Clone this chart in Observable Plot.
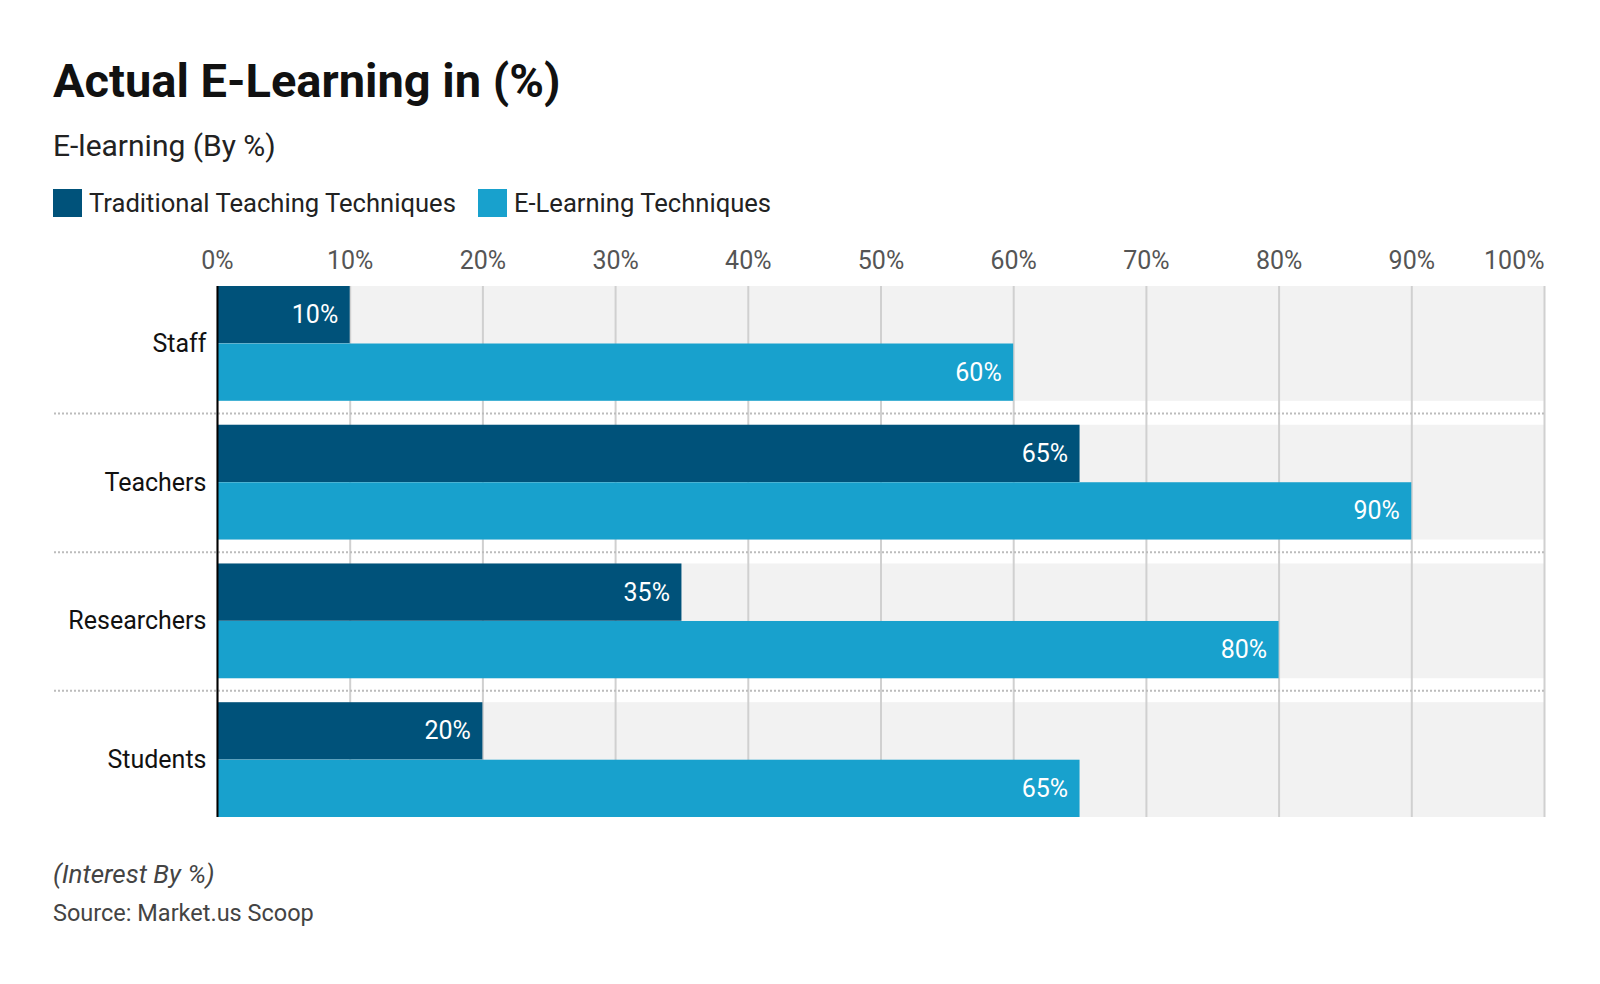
<!DOCTYPE html>
<html>
<head>
<meta charset="utf-8">
<script src="https://cdn.jsdelivr.net/npm/d3@7"></script>
<script src="https://cdn.jsdelivr.net/npm/@observablehq/plot@0.6"></script>
<style>
  html, body { margin: 0; padding: 0; background: #fff; }
  body { width: 1600px; height: 984px; position: relative; overflow: hidden; font-family: Roboto, "Noto Sans", sans-serif; }
  .abs { position: absolute; left: 53px; white-space: nowrap; margin: 0; }
  #title { top: 57px; font-size: 47px; line-height: 48px; font-weight: 700; color: #111; }
  #subtitle { top: 131px; font-size: 30px; line-height: 30px; color: #222; }
  #legend { top: 189px; display: flex; align-items: center; font-size: 25.6px; line-height: 28px; color: #222; }
  #legend .item { display: flex; align-items: center; margin-right: 22px; }
  #legend .sw { width: 29px; height: 28px; margin-right: 7px; }
  #chart { position: absolute; left: 0; top: 220px; }
  #note { top: 861px; font-size: 26px; line-height: 26px; font-style: italic; color: #444; }
  #source { top: 901px; font-size: 23.5px; line-height: 24px; color: #444; }
</style>
</head>
<body>
<div id="title" class="abs">Actual E-Learning in (%)</div>
<div id="subtitle" class="abs">E-learning (By %)</div>
<div id="legend" class="abs"></div>
<div id="chart"></div>
<div id="note" class="abs">(Interest By %)</div>
<div id="source" class="abs">Source: Market.us Scoop</div>
<script>
const categories = ["Staff", "Teachers", "Researchers", "Students"];
const seriesNames = ["Traditional Teaching Techniques", "E-Learning Techniques"];
const traditional = [10, 65, 35, 20];
const eLearning = [60, 90, 80, 65];
const xTicks = [0, 10, 20, 30, 40, 50, 60, 70, 80, 90, 100];
const colors = ["#00527a", "#18a1cd"];

// legend
const legend = document.getElementById("legend");
seriesNames.forEach((name, i) => {
  const item = document.createElement("div");
  item.className = "item";
  const sw = document.createElement("div");
  sw.className = "sw";
  sw.style.background = colors[i];
  const label = document.createElement("span");
  label.textContent = name;
  item.appendChild(sw);
  item.appendChild(label);
  legend.appendChild(item);
});

const tradRows = categories.map((c, i) => ({category: c, value: traditional[i]}));
const eRows = categories.map((c, i) => ({category: c, value: eLearning[i]}));

const svgTop = 220;
const frameTop = 286;
const frameBottom = 817;
const band = 115;
const gap = 24;
const marginLeft = 217;
const marginRight = 56;
const xMax = xTicks[xTicks.length - 1];

const chart = Plot.plot({
  width: 1600,
  height: frameBottom + 14 - svgTop,
  marginTop: frameTop - svgTop,
  marginBottom: 14,
  marginLeft,
  marginRight,
  style: {fontFamily: "Roboto, 'Noto Sans', sans-serif", background: "transparent", overflow: "visible"},
  x: {domain: [0, xMax]},
  y: {domain: categories, paddingInner: gap / (band + gap), paddingOuter: 0, align: 0, round: false},
  marks: [
    Plot.barX(categories, {y: d => d, x1: 0, x2: xMax, fill: "#f2f2f2"}),
    Plot.gridX(xTicks, {stroke: "#d0d0d0", strokeOpacity: 1, strokeWidth: 2}),
    Plot.ruleY(categories.slice(0, -1), {y: d => d, dy: (band + gap) / 2, insetLeft: -(marginLeft - 54), stroke: "#bcbcbc", strokeWidth: 2, strokeDasharray: "2,2"}),
    Plot.barX(tradRows, {y: "category", x: "value", fill: colors[0], insetBottom: band / 2}),
    Plot.barX(eRows, {y: "category", x: "value", fill: colors[1], insetTop: band / 2}),
    Plot.ruleX([0], {stroke: "#000", strokeWidth: 2}),
    Plot.text(tradRows, {y: "category", x: "value", text: d => d.value + "%", dx: -12, dy: -band / 4, textAnchor: "end", fill: "#fff", fontSize: 25}),
    Plot.text(eRows, {y: "category", x: "value", text: d => d.value + "%", dx: -12, dy: band / 4, textAnchor: "end", fill: "#fff", fontSize: 25}),
    Plot.axisX(xTicks.slice(0, -1), {anchor: "top", label: null, tickSize: 0, tickPadding: 18, tickFormat: d => d + "%", fontSize: 25, fill: "#555"}),
    Plot.axisX(xTicks.slice(-1), {anchor: "top", label: null, tickSize: 0, tickPadding: 18, tickFormat: d => d + "%", fontSize: 25, fill: "#555", textAnchor: "end"}),
    Plot.axisY({label: null, tickSize: 0, tickPadding: 11, fontSize: 25, fill: "#111"})
  ]
});
document.getElementById("chart").appendChild(chart);
</script>
</body>
</html>
